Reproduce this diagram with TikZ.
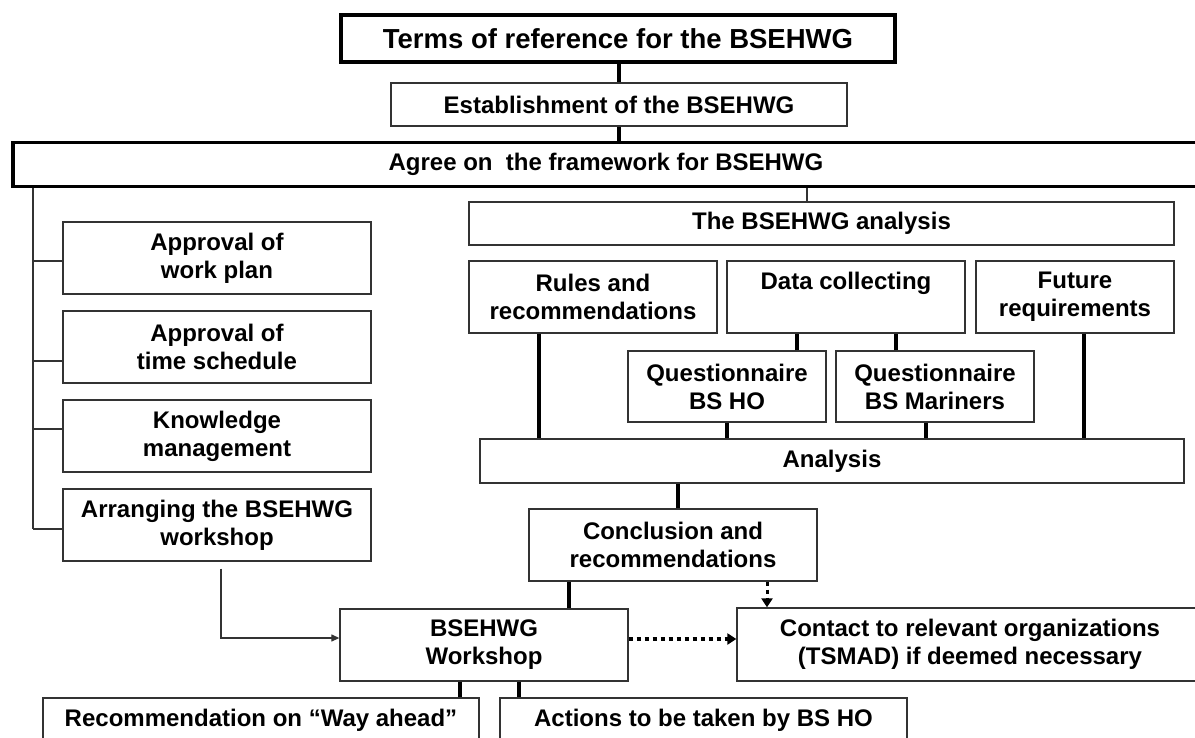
\documentclass[tikz,border=0pt]{standalone}
\usepackage{fontspec}
\setmainfont{Liberation Sans}
\usetikzlibrary{arrows.meta}
\definecolor{edge}{HTML}{333333}
\begin{document}
\begin{tikzpicture}[x=1pt,y=-1pt,
  box/.style={draw=edge, line width=1.3pt, inner sep=0pt, align=center, fill=white,
    font=\fontsize{24}{28}\selectfont\bfseries},
  heavybox/.style={box, draw=black, line width=4pt},
  link/.style={draw=black, line width=4pt},
  thinlink/.style={draw=edge, line width=1.2pt},
  dotlink/.style={draw=black, line width=3.5pt, dash pattern=on 4pt off 4pt,
    -{Triangle[length=9pt,width=11pt]}},
  arrowlink/.style={thinlink, -{Triangle[length=8pt,width=7pt]}}
]
\useasboundingbox (0,0) rectangle (1195,738);
\clip (0,0) rectangle (1195,738);
\fill[white] (0,0) rectangle (1195,738);

% top chain
\node[heavybox, minimum width=554, minimum height=47, font=\fontsize{27.5}{30}\selectfont\bfseries] (terms) at (618,38.5) {Terms of reference for the BSEHWG};
\node[box, minimum width=456, minimum height=43] (estab) at (619,104.5) {Establishment of the BSEHWG};
\node[heavybox, line width=3.5pt, minimum width=1186, minimum height=44] (agree) at (606,164.5) {Agree on \ the framework for BSEHWG};

% left column
\coordinate (spinebot) at (33,529);
\node[box, minimum width=308, minimum height=72] (wp) at (217,258) {Approval of\\work plan};
\node[box, minimum width=308, minimum height=72] (ts) at (217,347) {Approval of\\time schedule};
\node[box, minimum width=308, minimum height=72] (km) at (217,436) {Knowledge\\management};
\node[box, minimum width=308, minimum height=72] (arr) at (217,525) {Arranging the BSEHWG\\workshop};

% analysis block
\node[box, minimum width=705, minimum height=43] (an) at (821.5,223.5) {The BSEHWG analysis};
\node[box, minimum width=248, minimum height=72] (rules) at (593,297) {Rules and\\recommendations};
\node[box, minimum width=238, minimum height=72] (dc) at (846,297) {Data collecting\\\phantom{g}};
\node[box, minimum width=198, minimum height=72] (fut) at (1075,297) {Future\\requirements};
\node[box, minimum width=198, minimum height=71] (qho) at (727,386.5) {Questionnaire\\BS HO};
\node[box, minimum width=198, minimum height=71] (qmar) at (935,386.5) {Questionnaire\\BS Mariners};
\node[box, minimum width=704, minimum height=44] (ana) at (832,461) {Analysis};
\node[box, minimum width=288, minimum height=72] (con) at (673,545) {Conclusion and\\recommendations};
\node[box, minimum width=288, minimum height=72] (ws) at (484,645) {BSEHWG\\Workshop};
\node[box, minimum width=466, minimum height=73] (ct) at (970,644.5) {Contact to relevant organizations\\(TSMAD) if deemed necessary};
\node[box, minimum width=436, minimum height=44] (rec) at (261,720) {Recommendation on “Way ahead”};
\node[box, minimum width=407, minimum height=44] (act) at (703.5,720) {Actions to be taken by BS HO};

% top connectors
\draw[link] (terms.south -| estab.north) -- (estab.north);
\draw[link] (estab.south) -- (estab.south |- agree.north);
\draw[thinlink, line width=2pt] ([xshift=-14.5pt]an.north) -- ([xshift=-14.5pt]an.north |- agree.south);

% left tree
\draw[thinlink] (agree.south -| spinebot) -- (spinebot);
\draw[thinlink] ([yshift=-3pt]wp.west) -- ([yshift=-3pt]wp.west -| spinebot);
\draw[thinlink] ([yshift=-14pt]ts.west) -- ([yshift=-14pt]ts.west -| spinebot);
\draw[thinlink] ([yshift=7pt]km.west) -- ([yshift=7pt]km.west -| spinebot);
\draw[thinlink] ([yshift=-4pt]arr.west) -- (spinebot);
\draw[arrowlink] ([xshift=4pt,yshift=-7pt]arr.south) |- ([yshift=7pt]ws.west);

% analysis connectors
\draw[link] ([xshift=-54pt]rules.south) -- ([xshift=-54pt]rules.south |- ana.north);
\draw[link] ([xshift=70pt]qho.north) -- ([xshift=70pt]qho.north |- dc.south);
\draw[link] ([xshift=-39pt]qmar.north) -- ([xshift=-39pt]qmar.north |- dc.south);
\draw[link] (qho.south) -- (qho.south |- ana.north);
\draw[link] ([xshift=-9pt]qmar.south) -- ([xshift=-9pt]qmar.south |- ana.north);
\draw[link] ([xshift=9pt]fut.south) -- ([xshift=9pt]fut.south |- ana.north);
\draw[link] ([xshift=5pt]con.north) -- ([xshift=5pt]con.north |- ana.south);
\draw[link] ([xshift=85pt]ws.north) -- ([xshift=85pt]ws.north |- con.south);

% dotted arrows
\draw[dotlink] ([yshift=6pt]ws.east) -- ([yshift=6pt]ws.east -| ct.west);
\draw[dotlink, line width=3pt] ([xshift=94pt]con.south) -- ([xshift=94pt]con.south |- ct.north);

% bottom connectors
\draw[link] ([xshift=-24pt]ws.south) -- ([xshift=-24pt]ws.south |- rec.north);
\draw[link] ([xshift=35pt]ws.south) -- ([xshift=35pt]ws.south |- act.north);
\end{tikzpicture}
\end{document}
